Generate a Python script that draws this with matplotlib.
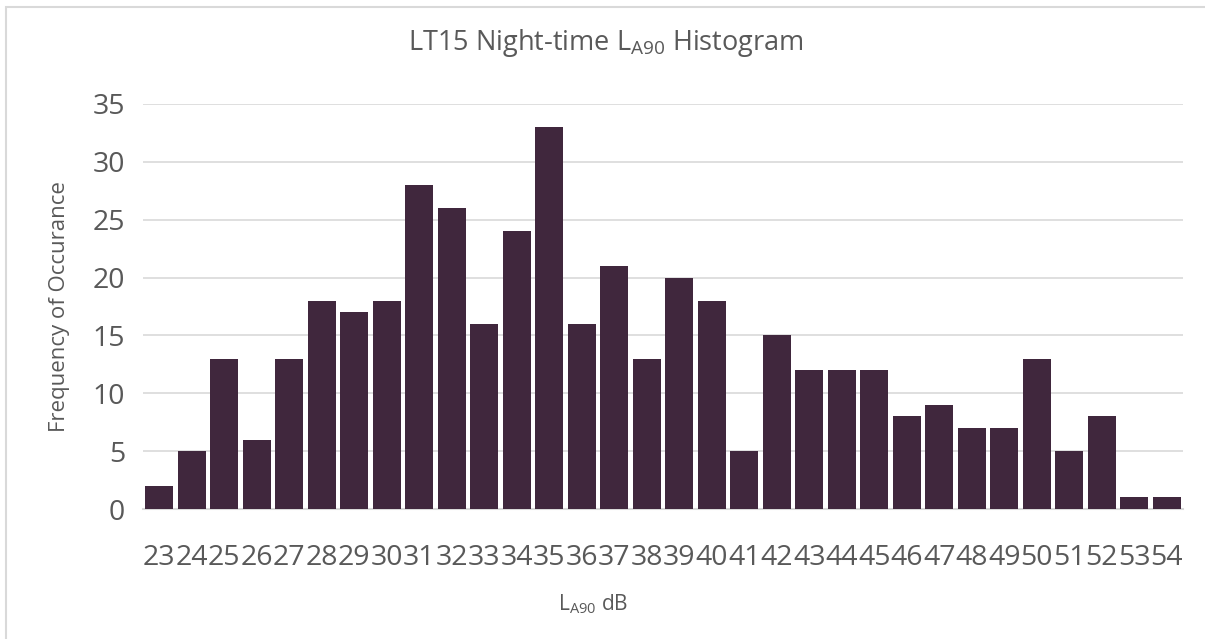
import matplotlib
matplotlib.use("Agg")
import matplotlib.pyplot as plt
from matplotlib.patches import Rectangle

# Night-time LA90 level bins (dB) and their counts
levels = list(range(23, 55))
counts = [2, 5, 13, 6, 13, 18, 17, 18, 28, 26, 16, 24, 33, 16, 21, 13,
          20, 18, 5, 15, 12, 12, 12, 8, 9, 7, 7, 13, 5, 8, 1, 1]
y_ticks = [0, 5, 10, 15, 20, 25, 30, 35]

BAR = "#40273D"
TEXT = "#595959"
GRID = "#D9D9D9"

plt.rcParams["font.family"] = ["Open Sans", "DejaVu Sans"]
plt.rcParams["mathtext.fontset"] = "custom"
plt.rcParams["mathtext.rm"] = "Open Sans"
plt.rcParams["mathtext.it"] = "Open Sans"

fig = plt.figure(figsize=(12.05, 6.39), dpi=100)
fig.patches.append(Rectangle((6 / 1205, -0.01), 1.02, 1 - 7 / 639 + 0.01,
                             transform=fig.transFigure, fill=False,
                             edgecolor=GRID, linewidth=1.5))

ax = fig.add_axes([143 / 1205, 1 - 509 / 639, 1040 / 1205, 405 / 639])
x = list(range(len(levels)))
ax.bar(x, counts, width=0.86, color=BAR, zorder=3)

ax.set_xlim(-0.5, len(levels) - 0.5)
ax.set_ylim(0, 35)
ax.set_yticks(y_ticks)
ax.set_xticks(x)
ax.set_xticklabels([str(v) for v in levels])
ax.tick_params(axis="both", length=0, labelsize=20.5, colors=TEXT)
ax.tick_params(axis="x", pad=25)
ax.tick_params(axis="y", pad=13)
ax.grid(axis="y", color=GRID, linewidth=1.2, zorder=0)
for s in ["top", "right", "left"]:
    ax.spines[s].set_visible(False)
ax.spines["bottom"].set_color(GRID)
ax.spines["bottom"].set_linewidth(1.5)

fig.text(606 / 1205, 1 - 43 / 639, r"LT15 Night-time L$_{\mathregular{A90}}$ Histogram",
         ha="center", va="center", fontsize=19.5, color=TEXT)
fig.text(60 / 1205, 1 - 307 / 639, "Frequency of Occurance", rotation=90,
         ha="center", va="center", fontsize=16, color=TEXT)
fig.text(593 / 1205, 1 - 604 / 639, r"L$_{\mathregular{A90}}$ dB",
         ha="center", va="center", fontsize=15, color=TEXT)

fig.savefig("out.png", dpi=100, facecolor="white")
